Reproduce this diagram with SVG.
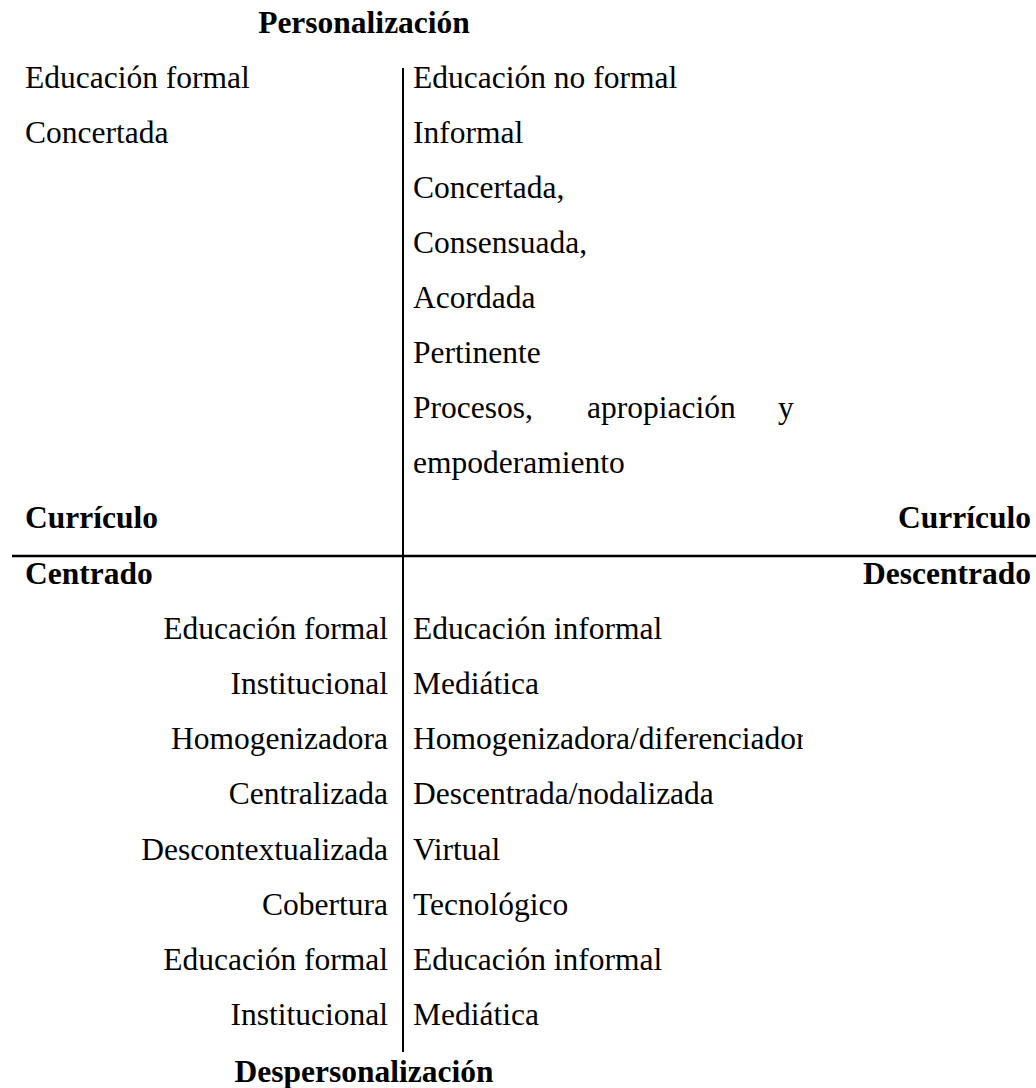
<svg xmlns="http://www.w3.org/2000/svg" width="1036" height="1088" viewBox="0 0 1036 1088">
<style>
text{font-family:"Liberation Serif","Times New Roman",serif;fill:#000}
.t{font-size:31.5px}
.b{font-size:31.5px;font-weight:bold}
.r{text-anchor:end}
.c{text-anchor:middle}
.ln{stroke:#000;fill:none}
</style>
<defs><clipPath id="clipR"><rect x="403" y="700" width="400" height="70"/></clipPath></defs>
<rect width="1036" height="1088" fill="#fff"/>
<g id="connectors">
<line class="ln" x1="403" y1="68" x2="403" y2="1052" stroke-width="2"/>
<line class="ln" x1="12" y1="556" x2="1036" y2="556" stroke-width="2.5"/>
</g>
<g id="axis-labels">
<text class="b c" x="364" y="33">Personalización</text>
<text class="b c" x="364" y="1082">Despersonalización</text>
<text class="b" x="25" y="528">Currículo</text>
<text class="b r" x="1031" y="528">Currículo</text>
<text class="b" x="25" y="584">Centrado</text>
<text class="b r" x="1031" y="584">Descentrado</text>
</g>
<g id="top-left">
<text class="t" x="25" y="88">Educación formal</text>
<text class="t" x="25" y="143">Concertada</text>
</g>
<g id="top-right">
<text class="t" x="413" y="88">Educación no formal</text>
<text class="t" x="413" y="143">Informal</text>
<text class="t" x="413" y="198">Concertada,</text>
<text class="t" x="413" y="253">Consensuada,</text>
<text class="t" x="413" y="308">Acordada</text>
<text class="t" x="413" y="363">Pertinente</text>
<text class="t" y="418"><tspan x="413">Procesos,</tspan><tspan x="587">apropiación</tspan><tspan x="778">y</tspan></text>
<text class="t" x="413" y="473">empoderamiento</text>
</g>
<g id="bottom-left">
<text class="t r" x="388" y="639">Educación formal</text>
<text class="t r" x="388" y="694">Institucional</text>
<text class="t r" x="388" y="749">Homogenizadora</text>
<text class="t r" x="388" y="804">Centralizada</text>
<text class="t r" x="388" y="860">Descontextualizada</text>
<text class="t r" x="388" y="915">Cobertura</text>
<text class="t r" x="388" y="970">Educación formal</text>
<text class="t r" x="388" y="1025">Institucional</text>
</g>
<g id="bottom-right">
<text class="t" x="413" y="639">Educación informal</text>
<text class="t" x="413" y="694">Mediática</text>
<text class="t" x="413" y="749" clip-path="url(#clipR)">Homogenizadora/diferenciador</text>
<text class="t" x="413" y="804">Descentrada/nodalizada</text>
<text class="t" x="413" y="860">Virtual</text>
<text class="t" x="413" y="915">Tecnológico</text>
<text class="t" x="413" y="970">Educación informal</text>
<text class="t" x="413" y="1025">Mediática</text>
</g>
</svg>
